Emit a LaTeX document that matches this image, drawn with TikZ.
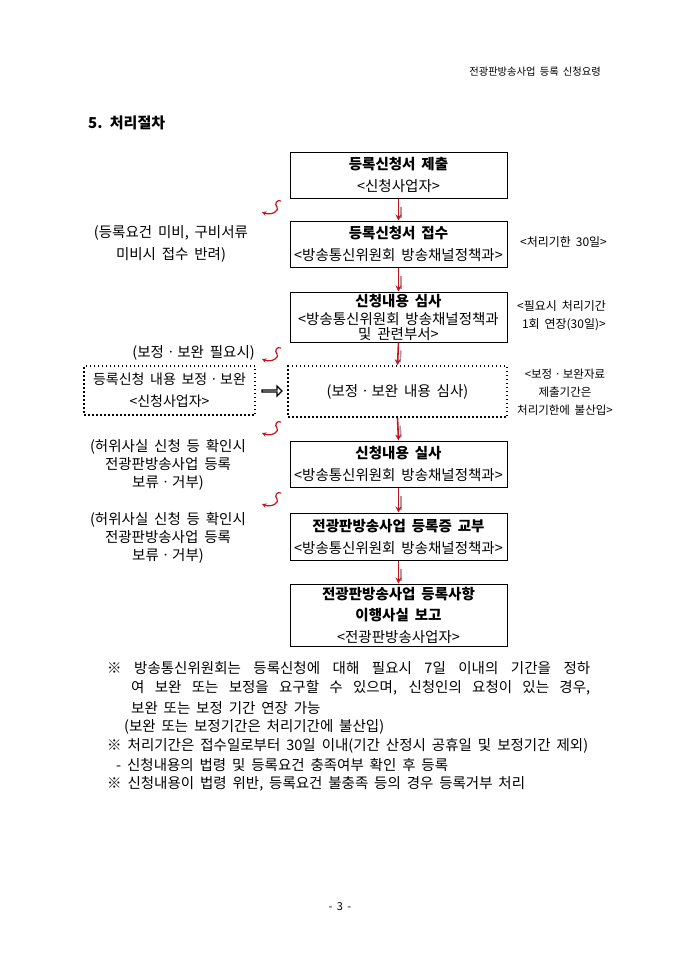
\documentclass[tikz,border=0pt]{standalone}
\usepackage{fontspec}
\setmainfont{Noto Sans CJK KR}[WordSpace=1.8]
\usetikzlibrary{arrows.meta,shapes.arrows,calc}
\definecolor{cRed}{RGB}{200,20,30}
\definecolor{cShade}{RGB}{160,160,160}

\begin{document}
\begin{tikzpicture}[x=1pt,y=-1pt,
  stepbox/.style={draw,line width=1pt,minimum width=217pt,minimum height=46pt,inner sep=0pt,align=center,font=\fontsize{14.5}{22}\selectfont},
  dotbox/.style={draw,line width=1.5pt,dash pattern=on 1.5pt off 2.5pt,inner sep=0pt,align=center,font=\fontsize{14.5}{22}\selectfont},
  side/.style={align=center,inner sep=0pt,font=\fontsize{14.5}{18}\selectfont},
  memo/.style={align=center,inner sep=0pt,font=\fontsize{12}{18}\selectfont},
  flow/.style={cRed,line width=1.6pt,-{Stealth[length=6pt,width=6pt]}},
  shade/.style={cShade,line width=1.6pt},
  curl/.style={cRed,line width=1.2pt,-{Stealth[length=4.5pt,width=4.5pt]}},
  note/.style={anchor=west,inner sep=0pt,font=\fontsize{14.5}{16}\selectfont}]
  \useasboundingbox (0,0) rectangle (680,962);
  % page head
  \node[anchor=east,inner sep=0pt,font=\fontsize{10.3}{12}\selectfont] (head) at (601,72) {전광판방송사업 등록 신청요령};
  \node[anchor=west,inner sep=0pt,font=\fontsize{15}{18}\selectfont\bfseries] (sec) at (88,123) {5. 처리절차};
  % main flow
  \node[stepbox] (b1) at (398.5,175) {\textbf{등록신청서 제출}\\<신청사업자>};
  \node[stepbox] (b2) at (398.5,244) {\textbf{등록신청서 접수}\\<방송통신위원회 방송채널정책과>};
  \node[stepbox,minimum height=50pt,font=\fontsize{14.5}{14.5}\selectfont] (b3) at (398.5,317)
       {\textbf{신청내용 심사}\\[4pt]<방송통신위원회 방송채널정책과\\및 관련부서>};
  \node[dotbox,minimum width=219pt,minimum height=51pt] (rev) at (397.5,391.5) {(보정ㆍ보완 내용 심사)};
  \node[dotbox,minimum width=171pt,minimum height=49pt,font=\fontsize{14}{22}\selectfont] (fix) at (169.5,390.5) {등록신청 내용 보정ㆍ보완\\<신청사업자>};
  \node[stepbox] (b4) at (398.5,464) {\textbf{신청내용 실사}\\<방송통신위원회 방송채널정책과>};
  \node[stepbox,minimum height=47pt] (b5) at (398.5,536.5) {\textbf{전광판방송사업 등록증 교부}\\<방송통신위원회 방송채널정책과>};
  \node[stepbox,minimum height=62pt,font=\fontsize{14.5}{21.5}\selectfont] (b6) at (398.5,615)
       {\textbf{전광판방송사업 등록사항}\\\textbf{이행사실 보고}\\<전광판방송사업자>};
  \foreach \a/\b in {b1/b2,b2/b3,b3/rev,rev/b4,b4/b5,b5/b6} {
    \draw[shade] ([xshift=2.5pt,yshift=-8pt]\a.south) -- ([xshift=2.5pt,yshift=3pt]\b.north);
    \draw[flow] (\a.south) -- (\b.north);
  }
  \node[draw,line width=1.2pt,single arrow,minimum height=20pt,minimum width=10pt,
        single arrow head extend=2.5pt,inner sep=0pt] (hand) at ($(fix.east)!0.5!(rev.west)$) {};
  % side remarks
  \node[side,font=\fontsize{14.5}{22}\selectfont] (back) at (171,244) {(등록요건 미비, 구비서류\\미비시 접수 반려)};
  \node[side,anchor=east] (need) at (255,353) {(보정ㆍ보완 필요시)};
  \node[side] (hold1) at (168,465) {(허위사실 신청 등 확인시\\전광판방송사업 등록\\보류ㆍ거부)};
  \node[side] (hold2) at (168,538) {(허위사실 신청 등 확인시\\전광판방송사업 등록\\보류ㆍ거부)};
  \node[memo,anchor=west] (lim) at (520,242) {<처리기한 30일>};
  \node[memo,anchor=west,align=left] (ext) at (517,316) {<필요시 처리기간\\\ 1회 연장(30일)>};
  \node[memo,font=\fontsize{11.5}{18}\selectfont] (excl) at (565,392) {<보정ㆍ보완자료\\제출기간은\\처리기한에 불산입>};
  \foreach \y in {208,355,429,500}
    \draw[curl] (281,{\y-7}) .. controls (277,{\y-9}) and (274,{\y-4}) .. (277,{\y-1})
                .. controls (280,{\y+2}) and (272,{\y+8}) .. (262,{\y+4});
  % notes
  \node[note] (n1) at (107,668) {\makebox[483pt][s]{※ 방송통신위원회는 등록신청에 대해 필요시 7일 이내의 기간을 정하}};
  \node[note] (n2) at (131,688) {\makebox[459pt][s]{여 보완 또는 보정을 요구할 수 있으며, 신청인의 요청이 있는 경우,}};
  \node[note] (n3) at (131,708) {보완 또는 보정 기간 연장 가능};
  \node[note] (n4) at (124,727) {(보완 또는 보정기간은 처리기간에 불산입)};
  \node[note] (n5) at (107,746) {\makebox[481pt][s]{※ 처리기간은 접수일로부터 30일 이내(기간 산정시 공휴일 및 보정기간 제외)}};
  \node[note] (n6) at (116,765) {- 신청내용의 법령 및 등록요건 충족여부 확인 후 등록};
  \node[note] (n7) at (107,784) {※ 신청내용이 법령 위반, 등록요건 불충족 등의 경우 등록거부 처리};
  \node[inner sep=0pt,font=\fontsize{11}{13}\selectfont] (page) at (340,907) {- 3 -};
\end{tikzpicture}
\end{document}
